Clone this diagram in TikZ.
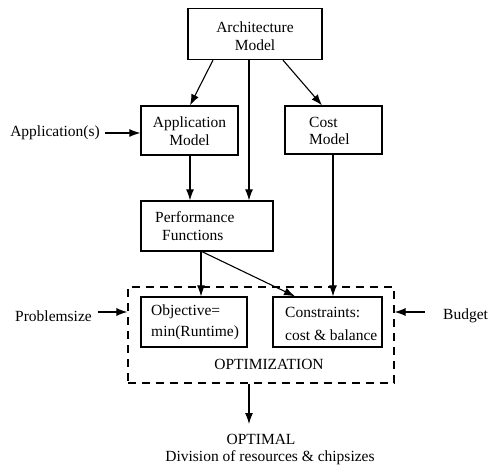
\documentclass[tikz,border=0pt]{standalone}
\usepackage{fontspec}
\setmainfont{Liberation Serif}
\usetikzlibrary{arrows.meta}
\begin{document}
\begin{tikzpicture}[x=1pt,y=-1pt,
  box/.style={draw,line width=1.3pt,inner sep=0pt,minimum width=#1},
  txt/.style={inner sep=0pt,font=\fontsize{15.5}{17.5}\selectfont},
  arr/.style={line width=1.1pt,-{Latex[length=11pt,width=8pt]}},
  dashbox/.style={draw,line width=1.2pt,dash pattern=on 8pt off 6pt}]
\useasboundingbox (0,0) rectangle (490,465);
% boxes
\node[box=134,minimum height=51] (arch) at (255,34) {};
\node[txt,align=center] (archtxt) at (255,36) {Architecture\\Model};
\node[box=97,minimum height=49] (app) at (189.5,130.5) {};
\node[txt,align=center] (apptxt) at (189.5,131) {Application\\Model};
\node[box=97,minimum height=48] (cost) at (333.5,130) {};
\node[txt,align=left,anchor=west] (costtxt) at (309,131) {Cost\\Model};
\node[box=132,minimum height=50] (perf) at (207,226) {};
\node[txt,align=left,anchor=west] (perftxt) at (155,226) {Performance\\\hspace*{7pt}Functions};
\node[box=106,minimum height=50] (obj) at (194,322) {};
\node[txt,anchor=west] (objtxt1) at (151,312) {Objective=};
\node[txt,anchor=west] (objtxt2) at (151,333) {min(Runtime)};
\node[box=109,minimum height=50] (cons) at (327.5,322) {};
\node[txt,anchor=west] (constxt1) at (285,312) {Constraints:};
\node[txt,anchor=west] (constxt2) at (285,335) {cost \& balance};
% optimization region
\node[dashbox,inner sep=0pt,minimum width=266,minimum height=96] (opt) at (261,335) {};
\node[txt] (opttxt) at (269,364) {OPTIMIZATION};
% outside labels
\node[txt,anchor=east] (appin) at (100,133) {Application(s)};
\node[txt,anchor=east] (probin) at (92,316) {Problemsize};
\node[txt,anchor=west] (budin) at (443,316) {Budget};
\node[txt] (optimal) at (261,439) {OPTIMAL};
\node[txt] (division) at (270,458) {Division of resources \& chipsizes};
\coordinate (outend) at (249,424);
% connectors
\draw[arr] (arch.south -| 213,0) -- (app.north -| 190,0);
\draw[arr] (arch.south -| 249,0) -- (perf.north -| 249,0);
\draw[arr] (arch.south -| 283,0) -- (cost.north -| 322,0);
\draw[arr] (app.south -| 190,0) -- (perf.north -| 190,0);
\draw[arr] (cost.south -| 333,0) -- (cons.north -| 333,0);
\draw[arr] (perf.south -| 201,0) -- (obj.north -| 201,0);
\draw[arr] (perf.south -| 202,0) -- (cons.north -| 295,0);
\draw[arr] (appin.east) ++(5,0) -- (app.west |- appin.east);
\draw[arr] (probin.east) ++(6,-4) -- (opt.west |- 0,312);
\draw[arr] (budin.west) ++(-18,-4) -- (opt.east |- 0,312);
\draw[arr] (opt.south -| outend) -- (outend);
\end{tikzpicture}
\end{document}
